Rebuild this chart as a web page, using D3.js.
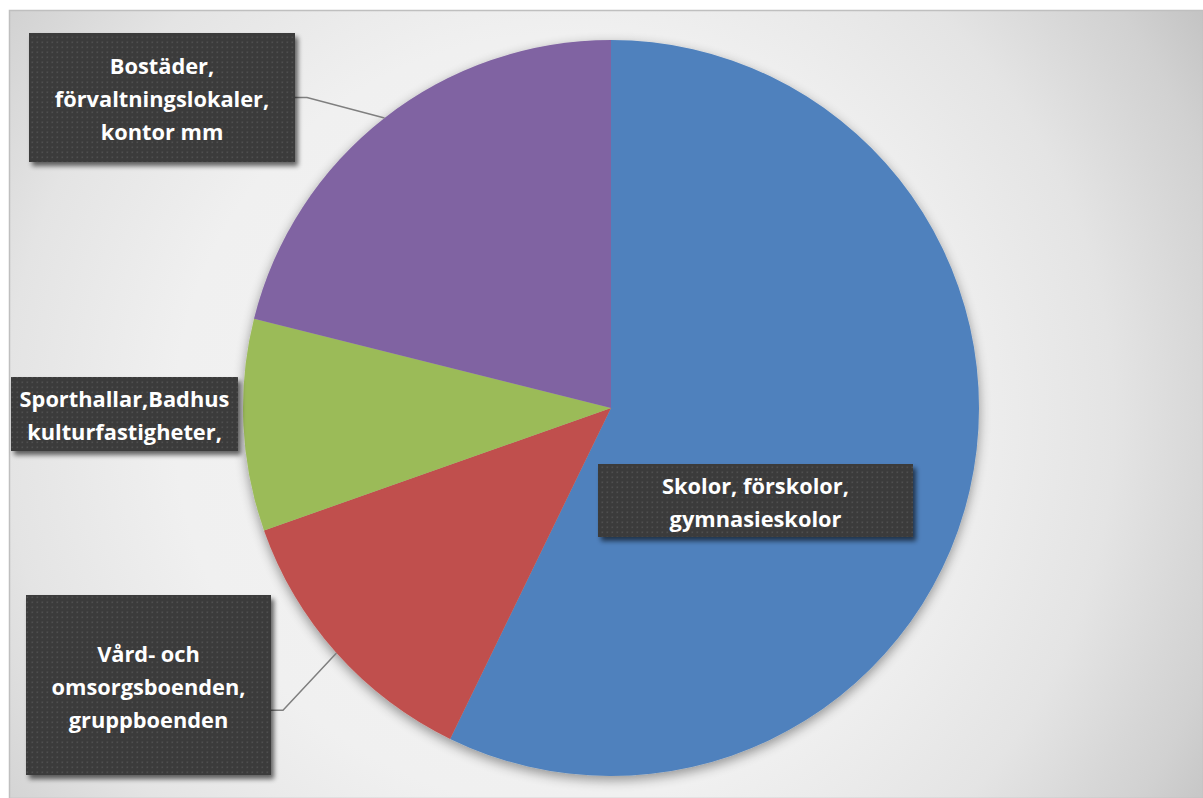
<!DOCTYPE html>
<html>
<head>
<meta charset="utf-8">
<script src="https://cdn.jsdelivr.net/npm/d3@7/dist/d3.min.js"></script>
<style>
  html, body { margin: 0; padding: 0; background: #ffffff; }
  svg { display: block; }
</style>
</head>
<body>
<svg id="chart" width="1203" height="798"></svg>
<script>
// Fördelning av lokalyta per verksamhetstyp (andel, %)
const categories = [
  "Skolor, förskolor, gymnasieskolor",
  "Vård- och omsorgsboenden, gruppboenden",
  "Sporthallar,Badhus kulturfastigheter,",
  "Bostäder, förvaltningslokaler, kontor mm"
];
const values = [57.2, 12.4, 9.3, 21.1];
// Radbrytningar i etiketterna
const labelLines = [
  ["Skolor, förskolor,", "gymnasieskolor"],
  ["Vård- och", "omsorgsboenden,", "gruppboenden"],
  ["Sporthallar,Badhus", "kulturfastigheter,"],
  ["Bostäder,", "förvaltningslokaler,", "kontor mm"]
];
const colors = ["#4f81bd", "#c0504d", "#9bbb59", "#8064a2"];

// Etikettrutornas placering (x, y, bredd, höjd) och om de har hänvisningslinje
const labelBoxes = [
  { x: 598, y: 464, w: 315, h: 73, leader: false },
  { x: 26,  y: 595, w: 245, h: 180, leader: true },
  { x: 11,  y: 377, w: 227, h: 74, leader: false },
  { x: 29,  y: 33,  w: 266, h: 129, leader: true }
];

const W = 1203, H = 798;
const cx = 611, cy = 408, R = 368;
const lineGap = 33;

const svg = d3.select("#chart");
const defs = svg.append("defs");

// Bakgrundens radiella gradient
const bg = defs.append("radialGradient")
  .attr("id", "bgGrad")
  .attr("gradientUnits", "userSpaceOnUse")
  .attr("cx", 560).attr("cy", 420).attr("r", 770);
[[0, "#f3f3f3"], [0.5, "#f0f0f0"], [0.72, "#e4e4e4"], [0.84, "#d7d7d7"], [0.9, "#d1d1d1"], [1, "#c2c2c2"]]
  .forEach(([o, c]) => bg.append("stop").attr("offset", o).attr("stop-color", c));

// Skugga under cirkeln
const pieShadow = defs.append("filter").attr("id", "pieShadow")
  .attr("x", "-10%").attr("y", "-10%").attr("width", "120%").attr("height", "120%");
pieShadow.append("feGaussianBlur").attr("in", "SourceAlpha").attr("stdDeviation", 6).attr("result", "b");
pieShadow.append("feOffset").attr("in", "b").attr("dx", 0).attr("dy", 4).attr("result", "o");
pieShadow.append("feComponentTransfer").attr("in", "o").attr("result", "s")
  .append("feFuncA").attr("type", "linear").attr("slope", 0.4);
const pm = pieShadow.append("feMerge");
pm.append("feMergeNode").attr("in", "s");
pm.append("feMergeNode").attr("in", "SourceGraphic");

// Skugga under etikettrutorna
const boxShadow = defs.append("filter").attr("id", "boxShadow")
  .attr("x", "-10%").attr("y", "-20%").attr("width", "130%").attr("height", "150%");
boxShadow.append("feGaussianBlur").attr("in", "SourceAlpha").attr("stdDeviation", 2.5).attr("result", "b");
boxShadow.append("feOffset").attr("in", "b").attr("dx", 3).attr("dy", 4).attr("result", "o");
boxShadow.append("feComponentTransfer").attr("in", "o").attr("result", "s")
  .append("feFuncA").attr("type", "linear").attr("slope", 0.6);
const bm = boxShadow.append("feMerge");
bm.append("feMergeNode").attr("in", "s");
bm.append("feMergeNode").attr("in", "SourceGraphic");

// Prickmönster för etikettrutorna
const pat = defs.append("pattern").attr("id", "dots")
  .attr("patternUnits", "userSpaceOnUse").attr("width", 5).attr("height", 5);
pat.append("rect").attr("width", 5).attr("height", 5).attr("fill", "#3b3b3b");
pat.append("rect").attr("x", 1.5).attr("y", 1.5).attr("width", 1.6).attr("height", 1.6).attr("fill", "#4f4f4f");

// Diagramyta
svg.append("rect")
  .attr("x", 9.5).attr("y", 10.5).attr("width", W - 9).attr("height", H - 10)
  .attr("fill", "url(#bgGrad)")
  .attr("stroke", "#bfbfbf").attr("stroke-width", 1.5);

const data = values.map((v, i) => ({ name: categories[i], value: v, i }));

const pie = d3.pie().value(d => d.value).sort(null);
const arcs = pie(data);
const arc = d3.arc().innerRadius(0).outerRadius(R);

const g = svg.append("g").attr("transform", `translate(${cx},${cy})`);
g.append("g").attr("filter", "url(#pieShadow)")
  .selectAll("path")
  .data(arcs)
  .join("path")
  .attr("d", arc)
  .attr("fill", d => colors[d.data.i]);

// Hänvisningslinjer från ruta till sektorns mittpunkt på kanten
const leaderG = svg.append("g");
arcs.forEach((a, i) => {
  const b = labelBoxes[i];
  if (!b.leader) return;
  const mid = (a.startAngle + a.endAngle) / 2;
  const ex = cx + R * Math.sin(mid);
  const ey = cy - R * Math.cos(mid);
  const sx = b.x + b.w;
  const sy = b.y + b.h * (i === 1 ? 0.64 : 0.5);
  leaderG.append("path")
    .attr("d", d3.line()([[sx, sy], [sx + 12, sy], [ex, ey]]))
    .attr("fill", "none")
    .attr("stroke", "#7f7f7f")
    .attr("stroke-width", 1.5);
});

// Etikettrutor
const labels = svg.append("g").selectAll("g")
  .data(arcs)
  .join("g");

labels.append("rect")
  .attr("x", d => labelBoxes[d.data.i].x)
  .attr("y", d => labelBoxes[d.data.i].y)
  .attr("width", d => labelBoxes[d.data.i].w)
  .attr("height", d => labelBoxes[d.data.i].h)
  .attr("fill", "url(#dots)")
  .attr("filter", "url(#boxShadow)");

labels.each(function (d) {
  const b = labelBoxes[d.data.i];
  const lines = labelLines[d.data.i];
  const n = lines.length;
  const t = d3.select(this).append("text")
    .attr("text-anchor", "middle")
    .attr("fill", "#ffffff")
    .attr("font-family", "'Open Sans', 'Noto Sans', sans-serif")
    .attr("font-weight", 700)
    .attr("font-size", 21.8);
  lines.forEach((ln, k) => {
    t.append("tspan")
      .attr("x", b.x + b.w / 2)
      .attr("y", b.y + b.h / 2 + (k - (n - 1) / 2) * lineGap + 9.5)
      .text(ln);
  });
});
</script>
</body>
</html>
